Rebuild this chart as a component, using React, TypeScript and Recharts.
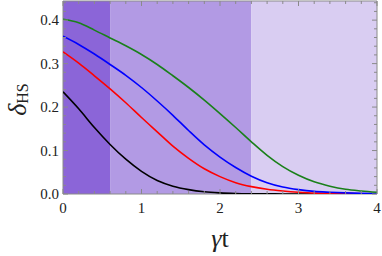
import React from "react";
import { LineChart, Line, XAxis, YAxis, ReferenceArea } from "recharts";

// ---- data ----
const tValues = [0, 0.2, 0.4, 0.6, 0.8, 1.0, 1.2, 1.4, 1.6, 1.8, 2.0, 2.2, 2.4, 2.6, 2.8, 3.0, 3.2, 3.4, 3.6, 3.8, 4.0];
const blackSeries = [0.235, 0.196, 0.153, 0.114, 0.08, 0.052, 0.031, 0.018, 0.01, 0.005, 0.0025, 0.0012, 0.0006, 0.0003, 0.0001, 0, 0, 0, 0, 0, 0];
const redSeries = [0.327, 0.301, 0.272, 0.242, 0.21, 0.176, 0.143, 0.11, 0.082, 0.058, 0.04, 0.026, 0.017, 0.011, 0.007, 0.004, 0.002, 0.0015, 0.001, 0.0005, 0.0003];
const blueSeries = [0.363, 0.344, 0.322, 0.298, 0.273, 0.245, 0.214, 0.181, 0.146, 0.113, 0.085, 0.061, 0.041, 0.026, 0.016, 0.01, 0.006, 0.004, 0.0025, 0.0015, 0.001];
const greenSeries = [0.402, 0.394, 0.377, 0.359, 0.341, 0.321, 0.298, 0.272, 0.245, 0.216, 0.185, 0.153, 0.12, 0.089, 0.063, 0.043, 0.028, 0.018, 0.011, 0.007, 0.004];

const xTicks = [0, 0.2, 0.4, 0.6, 0.8, 1, 1.2, 1.4, 1.6, 1.8, 2, 2.2, 2.4, 2.6, 2.8, 3, 3.2, 3.4, 3.6, 3.8, 4];
const xMajor = [0, 1, 2, 3, 4];
const yTicks = [0, 0.02, 0.04, 0.06, 0.08, 0.1, 0.12, 0.14, 0.16, 0.18, 0.2, 0.22, 0.24, 0.26, 0.28, 0.3, 0.32, 0.34, 0.36, 0.38, 0.4, 0.42, 0.44];
const yMajor = [0, 0.1, 0.2, 0.3, 0.4];

const regionBounds = [0, 0.6, 2.4, 4];
const regionColors = ["#8b65d8", "#b29ae4", "#d9cdf2"];

const X_DOMAIN: [number, number] = [0, 4];
const Y_DOMAIN: [number, number] = [0, 0.444];

const data = tValues.map((t, i) => ({
  t,
  black: blackSeries[i],
  red: redSeries[i],
  blue: blueSeries[i],
  green: greenSeries[i],
}));

// ---- layout ----
const W = 382;
const H = 256;
const MARGIN = { top: 1, right: 5, bottom: 0, left: 0 };
const Y_AXIS_W = 63;
const X_AXIS_H = 62;
const PLOT_W = W - MARGIN.left - MARGIN.right - Y_AXIS_W;
const PLOT_H = H - MARGIN.top - MARGIN.bottom - X_AXIS_H;
const TICK_MARGIN_X = 8;
const TICK_MARGIN_Y = 4;
const FRAME = "#8a8a8a";
const textStyle = { fontFamily: '"Liberation Serif"' };

const isMajor = (v: number, majors: number[]) => majors.some((m) => Math.abs(m - v) < 1e-6);

function XTick(props: any) {
  const { x, y, payload } = props;
  const v = payload.value as number;
  const major = isMajor(v, xMajor);
  const axisY = y - TICK_MARGIN_X;
  const len = major ? 5 : 3;
  return (
    <g>
      <line x1={x} x2={x} y1={axisY} y2={axisY - len} stroke={FRAME} strokeWidth={1} />
      <line x1={x} x2={x} y1={axisY - PLOT_H} y2={axisY - PLOT_H + len} stroke={FRAME} strokeWidth={1} />
      {major && (
        <text x={x} y={y} dy="0.71em" textAnchor="middle" style={textStyle} fontSize={15} fill="#222">
          {String(Math.round(v))}
        </text>
      )}
    </g>
  );
}

function YTick(props: any) {
  const { x, y, payload } = props;
  const v = payload.value as number;
  const major = isMajor(v, yMajor);
  const axisX = x + TICK_MARGIN_Y;
  const len = major ? 5 : 3;
  return (
    <g>
      <line x1={axisX} x2={axisX + len} y1={y} y2={y} stroke={FRAME} strokeWidth={1} />
      <line x1={axisX + PLOT_W} x2={axisX + PLOT_W - len} y1={y} y2={y} stroke={FRAME} strokeWidth={1} />
      {major && (
        <text x={x} y={y} dy="0.355em" textAnchor="end" style={textStyle} fontSize={15} fill="#222">
          {v.toFixed(1)}
        </text>
      )}
    </g>
  );
}

function YLabel(props: any) {
  const vb = props.viewBox || { x: 0, y: 0, width: 0, height: 0 };
  const cx = vb.x + 17;
  const cy = vb.y + vb.height / 2 + 2;
  return (
    <text
      x={cx}
      y={cy}
      transform={`rotate(-90 ${cx} ${cy})`}
      textAnchor="middle"
      dominantBaseline="central"
      style={textStyle}
      fill="#222"
    >
      <tspan fontSize={26} fontStyle="italic">δ</tspan>
      <tspan fontSize={16} dy={5}>HS</tspan>
    </text>
  );
}

function XLabel(props: any) {
  const vb = props.viewBox || { x: 0, y: 0, width: 0, height: 0 };
  const cx = vb.x + vb.width / 2;
  const cy = vb.y + 53;
  return (
    <text x={cx} y={cy} textAnchor="middle" style={textStyle} fontSize={26} fill="#222">
      <tspan fontStyle="italic">γ</tspan>
      <tspan>t</tspan>
    </text>
  );
}

export default function App() {
  return (
    <div style={{ position: "absolute", left: 0, top: 0, width: W, height: H, background: "#fff" }}>
      <LineChart width={W} height={H} data={data} margin={MARGIN}>
        {regionColors.map((c, i) => (
          <ReferenceArea
            key={i}
            x1={regionBounds[i]}
            x2={regionBounds[i + 1]}
            y1={Y_DOMAIN[0]}
            y2={Y_DOMAIN[1]}
            fill={c}
            fillOpacity={1}
            stroke="none"
            ifOverflow="visible"
          />
        ))}
        <XAxis
          dataKey="t"
          type="number"
          domain={X_DOMAIN}
          ticks={xTicks}
          interval={0}
          allowDataOverflow
          height={X_AXIS_H}
          tickSize={0}
          tickMargin={TICK_MARGIN_X}
          tickLine={false}
          axisLine={false}
          tick={<XTick />}
          label={{ content: <XLabel /> } as any}
        />
        <YAxis
          type="number"
          domain={Y_DOMAIN}
          ticks={yTicks}
          interval={0}
          allowDataOverflow
          width={Y_AXIS_W}
          tickSize={0}
          tickMargin={TICK_MARGIN_Y}
          tickLine={false}
          axisLine={false}
          tick={<YTick />}
          label={{ content: <YLabel /> } as any}
        />
        <Line type="monotone" dataKey="black" stroke="#000000" strokeWidth={1.6} dot={false} isAnimationActive={false} />
        <Line type="monotone" dataKey="red" stroke="#ff0000" strokeWidth={1.6} dot={false} isAnimationActive={false} />
        <Line type="monotone" dataKey="blue" stroke="#0000ff" strokeWidth={1.6} dot={false} isAnimationActive={false} />
        <Line type="monotone" dataKey="green" stroke="#1a801a" strokeWidth={1.6} dot={false} isAnimationActive={false} />
        <ReferenceArea
          x1={X_DOMAIN[0]}
          x2={X_DOMAIN[1]}
          y1={Y_DOMAIN[0]}
          y2={Y_DOMAIN[1]}
          fill="none"
          stroke={FRAME}
          strokeWidth={1}
          ifOverflow="visible"
        />
      </LineChart>
    </div>
  );
}
